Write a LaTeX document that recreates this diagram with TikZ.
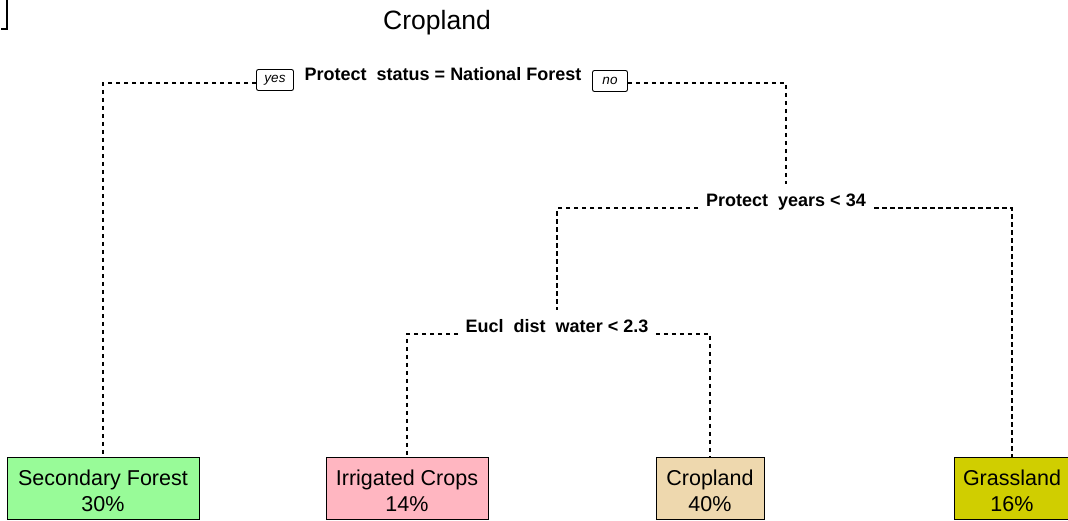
\documentclass[tikz,border=0pt]{standalone}
\usepackage{fontspec}
\setmainfont{Liberation Sans}
\usetikzlibrary{calc}

\definecolor{leafgreen}{RGB}{152,251,152}
\definecolor{leafpink}{RGB}{255,182,193}
\definecolor{leafwheat}{RGB}{238,216,174}
\definecolor{leafyellow}{RGB}{208,206,0}

% extra head room on the first line of a leaf label
\newcommand{\leafstrut}{\rule{0pt}{22pt}}

\tikzset{
  splitlabel/.style={font=\bfseries\fontsize{18}{20}\selectfont, inner xsep=8pt, inner ysep=9pt, anchor=base},
  leafbox/.style={draw=black, line width=1pt, align=center, inner sep=0pt,
    minimum height=62pt, font=\fontsize{21.5}{26}\selectfont},
  branch/.style={draw=black, line width=1.2pt, dash pattern=on 4.5pt off 3.5pt},
  tagbox/.style={draw=black, line width=0.9pt, rounded corners=2pt, inner sep=0pt,
    minimum height=21pt, font=\itshape\fontsize{13.5}{14}\selectfont},
}

\begin{document}
\begin{tikzpicture}[x=1pt, y=-1pt]
  \useasboundingbox (0,0) rectangle (1068,520);

  % corner mark
  \draw[line width=2pt] (7,0) -- (7,29) -- (1,29);

  % title
  \node[anchor=base, font=\fontsize{26.5}{30}\selectfont] (title) at (437,29) {Cropland};

  % split labels
  \node[splitlabel] (root) at (443,80) {Protect\ \ status = National Forest};
  \node[tagbox, minimum width=37pt] (yes) at (275,80) {yes};
  \node[tagbox, minimum width=35pt] (no) at (610,81) {no};
  \node[splitlabel] (ny) at (786,206) {Protect\ \ years < 34};
  \node[splitlabel, inner xsep=7.5pt] (nd) at (557,332) {Eucl\ \ dist\ \ water < 2.3};

  % leaves
  \node[leafbox, fill=leafgreen, minimum width=192pt] (sf) at (103,488) {\leafstrut Secondary Forest\\30\%};
  \node[leafbox, fill=leafpink, minimum width=162pt] (ic) at (407,488) {\leafstrut Irrigated Crops\\14\%};
  \node[leafbox, fill=leafwheat, minimum width=108pt] (cl) at (710,488) {\leafstrut Cropland\\40\%};
  \node[leafbox, fill=leafyellow, minimum width=116pt] (gl) at (1012,488) {\leafstrut Grassland\\16\%};

  % branches
  \draw[branch] ($(yes.west)+(0,3)$) -| (sf.north);
  \draw[branch] ($(no.east)+(0,2)$) -| (ny.north);
  \draw[branch] ($(ny.base west)+(0,2)$) -| (nd.north);
  \draw[branch] ($(ny.base east)+(0,2)$) -| (gl.north);
  \draw[branch] ($(nd.base west)+(0,2)$) -| (ic.north);
  \draw[branch] ($(nd.base east)+(0,2)$) -| (cl.north);
\end{tikzpicture}
\end{document}
